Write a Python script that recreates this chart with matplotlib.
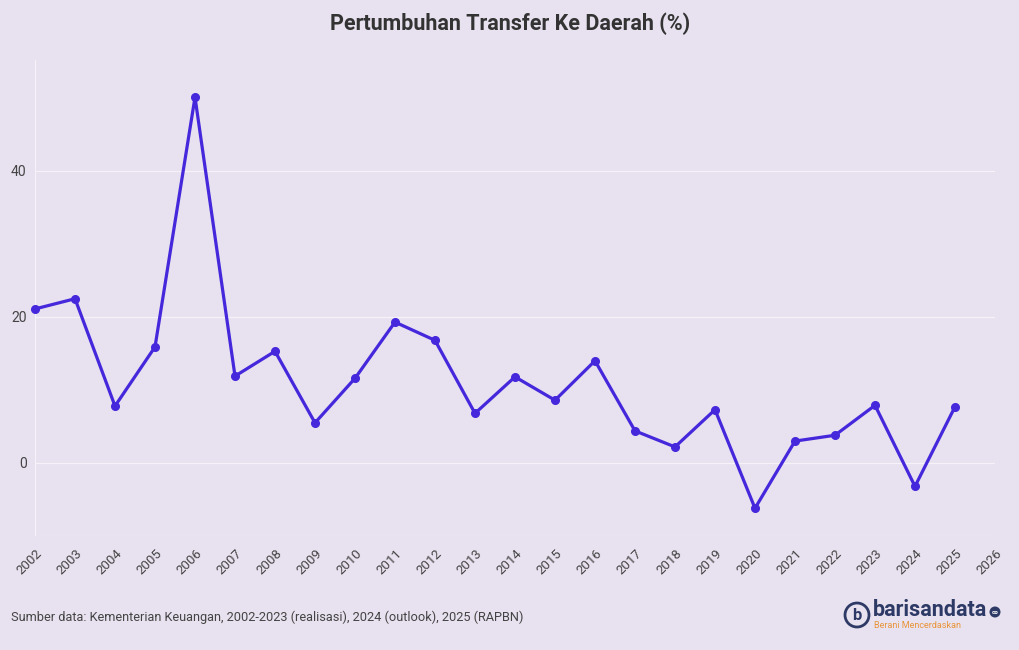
import matplotlib.pyplot as plt
from matplotlib.patches import Ellipse

# data
years = list(range(2002, 2026))
growth = [21.1, 22.5, 7.8, 15.9, 50.1, 11.9, 15.3, 5.5, 11.6, 19.3, 16.8, 6.8,
          11.8, 8.6, 14.0, 4.4, 2.2, 7.3, -6.2, 3.0, 3.8, 7.9, -3.2, 7.7]
xticks = list(range(2002, 2027))
yticks = [0, 20, 40]

BG = "#E8E1EF"
LINE = "#4527DC"
TXT = "#444444"
NAVY = "#2E3A66"

plt.rcParams["font.family"] = ["Roboto", "DejaVu Sans"]

fig = plt.figure(figsize=(10.2, 6.5), dpi=100, facecolor=BG)
ax = fig.add_axes([35 / 1020, 114 / 650, 960 / 1020, 476 / 650])
ax.set_facecolor(BG)

ax.plot(years, growth, color=LINE, linewidth=2.3, marker="o", markersize=5.5,
        clip_on=False, zorder=3)

ax.set_xlim(2002, 2026)
ax.set_ylim(-10, 55.2)
ax.set_xticks(xticks)
ax.set_xticklabels([str(x) for x in xticks], rotation=45, ha="right",
                   rotation_mode="anchor", fontsize=9.5, color=TXT)
ax.set_yticks(yticks)
ax.set_yticklabels([str(y) for y in yticks], fontsize=10, color=TXT)
ax.tick_params(axis="both", length=0, pad=6)
ax.tick_params(axis="x", pad=8)

ax.grid(True, color="#F6F2FA", linewidth=0.9)
ax.grid(axis="x", visible=False)
ax.axvline(2002, color="#F6F2FA", linewidth=0.9, zorder=0)
ax.axhline(-10, color="#F6F2FA", linewidth=0.9, zorder=0)
for s in ax.spines.values():
    s.set_visible(False)
ax.set_axisbelow(True)

fig.text(0.5, 1 - 24 / 650, "Pertumbuhan Transfer Ke Daerah (%)", ha="center",
         va="center", fontsize=15.5, fontweight="bold", color="#333333")
fig.text(11 / 1020, 1 - 617 / 650,
         "Sumber data: Kementerian Keuangan, 2002-2023 (realisasi), 2024 (outlook), 2025 (RAPBN)",
         ha="left", va="center", fontsize=9.2, color=TXT)

# logo (circles sized in pixels so they stay round)
fig.patches.append(Ellipse((857 / 1020, 1 - 615 / 650), 24 / 1020, 24 / 650,
                           transform=fig.transFigure, facecolor="none",
                           edgecolor=NAVY, linewidth=2))
fig.text(857 / 1020, 1 - 615 / 650, "b", ha="center", va="center", fontsize=12,
         fontweight="bold", color=NAVY)
fig.text(873 / 1020, 1 - 610 / 650, "barisandata", ha="left", va="center",
         fontsize=15.5, fontweight="bold", color=NAVY)
fig.text(874 / 1020, 1 - 625 / 650, "Berani Mencerdaskan", ha="left", va="center",
         fontsize=6.5, color="#E8953A")
fig.patches.append(Ellipse((995 / 1020, 1 - 612 / 650), 11 / 1020, 11 / 650,
                           transform=fig.transFigure, facecolor=NAVY, edgecolor="none"))
fig.text(995 / 1020, 1 - 612 / 650, "co", ha="center", va="center", fontsize=4.5,
         fontweight="bold", color="white")

fig.savefig("out.png", dpi=100, facecolor=BG)
